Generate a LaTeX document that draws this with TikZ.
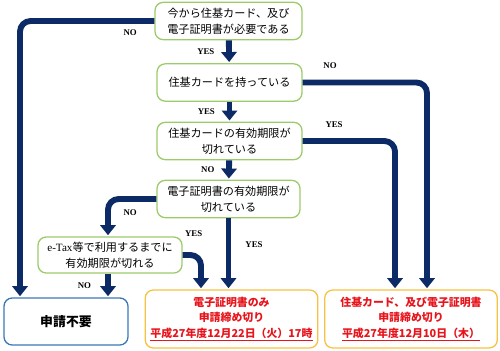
\documentclass[tikz,border=0pt]{standalone}
\usepackage{fontspec}
\setmainfont{Liberation Serif}
\newfontfamily\jp{Noto Sans CJK JP}
\usetikzlibrary{positioning,arrows.meta,calc}
\definecolor{navy}{HTML}{0B2A66}
\definecolor{leaf}{HTML}{9CCB6A}
\definecolor{gold}{HTML}{F6C244}
\definecolor{sky}{HTML}{3A78B8}
\definecolor{alert}{HTML}{E8141C}

\begin{document}
\begin{tikzpicture}[
    x=0.3mm, y=-0.3mm,
    q/.style={rounded corners=7pt, draw=leaf, line width=1.1pt, fill=white, minimum width=43.5mm, minimum height=11.2mm, font=\jp\fontsize{9.5}{13.5}\selectfont, align=center, inner sep=2pt},
    endbox/.style={q, draw=gold, minimum width=51.8mm, minimum height=17.4mm, text=alert, font=\jp\bfseries\fontsize{9.3}{13.2}\selectfont},
    lab/.style={font=\fontsize{7.5}{9}\selectfont\bfseries, inner sep=1pt},
    flow/.style={draw=navy, line width=5pt, rounded corners=9pt, -{Triangle[width=13pt,length=8.5pt]}, shorten >=1pt}
  ]
  \useasboundingbox (0,0) rectangle (500,350);

  \node[q, minimum width=44.1mm] (q1) at (228.5,21) {今から住基カード、及び\\電子証明書が必要である};
  \node[q] (q2) at (229.5,82.5) {住基カードを持っている};
  \node[q] (q3) at (229.5,141) {住基カードの有効期限が\\切れている};
  \node[q, minimum width=42.9mm] (q4) at (228.5,199) {電子証明書の有効期限が\\切れている};
  \node[q, minimum width=43.2mm, minimum height=10.8mm] (q5) at (110,255) {{\rmfamily e-Tax}等で利用するまでに\\有効期限が切れる};
  \node[q, draw=sky, minimum width=37.2mm, minimum height=14.1mm, font=\jp\bfseries\fontsize{11}{13}\selectfont] (none) at (66,321.5) {申請不要};
  \node[endbox] (dl1) at (231.5,319) {電子証明書のみ\\申請締め切り\\\underline{平成27年度12月22日（火）17時}};
  \node[endbox] (dl2) at (411,319) {住基カード、及び電子証明書\\申請締め切り\\\underline{平成27年度12月10日（木）}};

  \coordinate (xa) at (20,0);
  \coordinate (xe) at (108,0);
  \coordinate (xb) at (201,0);
  \coordinate (xc) at (395,0);
  \coordinate (xd) at (427,0);

  \draw[flow] (q1.west) -| node[lab, pos=0.09, below=4pt]{NO} (none.north -| xa);
  \draw[flow] (q1) -- node[lab, midway, left=9pt]{YES} (q2);
  \draw[flow] (q2.east) -| node[lab, pos=0.11, above=8pt]{NO} (dl2.north -| xd);
  \draw[flow] (q2) -- node[lab, midway, left=9pt]{YES} (q3);
  \draw[flow] (q3.east) -| node[lab, pos=0.17, above=8pt]{YES} (dl2.north -| xc);
  \draw[flow] (q3) -- node[lab, midway, left=9pt]{NO} (q4);
  \draw[flow] (q4.west) -| node[lab, pos=0.27, below=6pt]{NO} (q5.north -| xe);
  \draw[flow] (q4.south) -- node[lab, pos=0.37, right=11pt]{YES} (q4.south |- dl1.north);
  \draw[flow] (q5.east) -| node[lab, pos=0.3, above=12pt]{YES} (dl1.north -| xb);
  \draw[flow] (q5.south -| xe) -- node[lab, midway, left=11pt]{NO} (none.north -| xe);
\end{tikzpicture}
\end{document}
